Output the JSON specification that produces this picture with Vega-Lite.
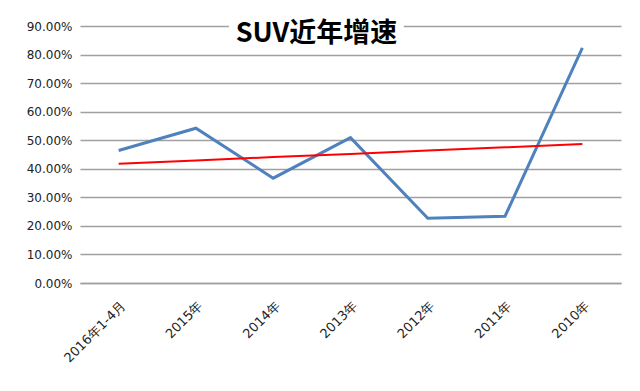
{
  "$schema": "https://vega.github.io/schema/vega-lite/v6.json",
  "autosize": "none",
  "width": 541,
  "height": 257,
  "padding": {"left": 80, "top": 26, "right": 19, "bottom": 108},
  "background": "white",
  "title": {
    "text": "SUV近年增速",
    "font": "Noto Sans CJK SC",
    "fontSize": 27,
    "fontWeight": "bold",
    "color": "#000000",
    "anchor": "middle",
    "frame": "group",
    "dx": -34,
    "offset": -28
  },
  "data": {
    "values": [
      {"period": "2016年1-4月", "growth": 0.464, "trend": 0.418},
      {"period": "2015年", "growth": 0.542, "trend": 0.429},
      {"period": "2014年", "growth": 0.367, "trend": 0.441},
      {"period": "2013年", "growth": 0.509, "trend": 0.452},
      {"period": "2012年", "growth": 0.227, "trend": 0.464},
      {"period": "2011年", "growth": 0.234, "trend": 0.475},
      {"period": "2010年", "growth": 0.823, "trend": 0.487}
    ]
  },
  "encoding": {
    "x": {
      "field": "period",
      "type": "ordinal",
      "sort": null,
      "scale": {
        "type": "point",
        "padding": 0.5,
        "domain": ["2016年1-4月", "2015年", "2014年", "2013年", "2012年", "2011年", "2010年"]
      },
      "axis": {
        "title": null,
        "labelAngle": -45,
        "labelFont": "DejaVu Sans",
        "labelFontSize": 13,
        "labelColor": "#222222",
        "labelOverlap": false,
        "ticks": false,
        "domain": true,
        "domainColor": "#a0a0a0",
        "domainWidth": 1.5,
        "labelPadding": 16,
        "grid": false
      }
    }
  },
  "layer": [
    {
      "data": {"values": [{"period": "2015年", "periodEnd": "2012年", "level": 0.9}]},
      "mark": {
        "type": "rect",
        "fill": "white",
        "xOffset": 33,
        "x2Offset": -24,
        "yOffset": -3,
        "y2Offset": 3
      },
      "encoding": {
        "x2": {"field": "periodEnd"},
        "y": {
          "field": "level",
          "type": "quantitative",
          "scale": {"domain": [0, 0.9], "nice": false},
          "axis": {
            "title": null,
            "format": ".2%",
            "values": [0, 0.1, 0.2, 0.3, 0.4, 0.5, 0.6, 0.7, 0.8, 0.9],
            "labelFont": "DejaVu Sans",
            "labelFontSize": 12,
            "labelColor": "#222222",
            "labelOverlap": false,
            "labelFlush": false,
            "labelBound": false,
            "ticks": false,
            "domain": false,
            "labelPadding": 8,
            "grid": true,
            "gridColor": "#a0a0a0",
            "gridWidth": 1.5
          }
        },
        "y2": {"field": "level"}
      }
    },
    {
      "mark": {"type": "line", "color": "#4F81BD", "strokeWidth": 3},
      "encoding": {
        "y": {
          "field": "growth",
          "type": "quantitative",
          "scale": {"domain": [0, 0.9], "nice": false},
          "axis": {
            "title": null,
            "format": ".2%",
            "values": [0, 0.1, 0.2, 0.3, 0.4, 0.5, 0.6, 0.7, 0.8, 0.9],
            "labelFont": "DejaVu Sans",
            "labelFontSize": 12,
            "labelColor": "#222222",
            "labelOverlap": false,
            "labelFlush": false,
            "labelBound": false,
            "ticks": false,
            "domain": false,
            "labelPadding": 8,
            "grid": true,
            "gridColor": "#a0a0a0",
            "gridWidth": 1.5
          }
        }
      }
    },
    {
      "mark": {"type": "line", "color": "#FF0000", "strokeWidth": 2},
      "encoding": {
        "y": {
          "field": "trend",
          "type": "quantitative",
          "scale": {"domain": [0, 0.9], "nice": false},
          "axis": {
            "title": null,
            "format": ".2%",
            "values": [0, 0.1, 0.2, 0.3, 0.4, 0.5, 0.6, 0.7, 0.8, 0.9],
            "labelFont": "DejaVu Sans",
            "labelFontSize": 12,
            "labelColor": "#222222",
            "labelOverlap": false,
            "labelFlush": false,
            "labelBound": false,
            "ticks": false,
            "domain": false,
            "labelPadding": 8,
            "grid": true,
            "gridColor": "#a0a0a0",
            "gridWidth": 1.5
          }
        }
      }
    }
  ],
  "config": {"view": {"stroke": null}}
}
